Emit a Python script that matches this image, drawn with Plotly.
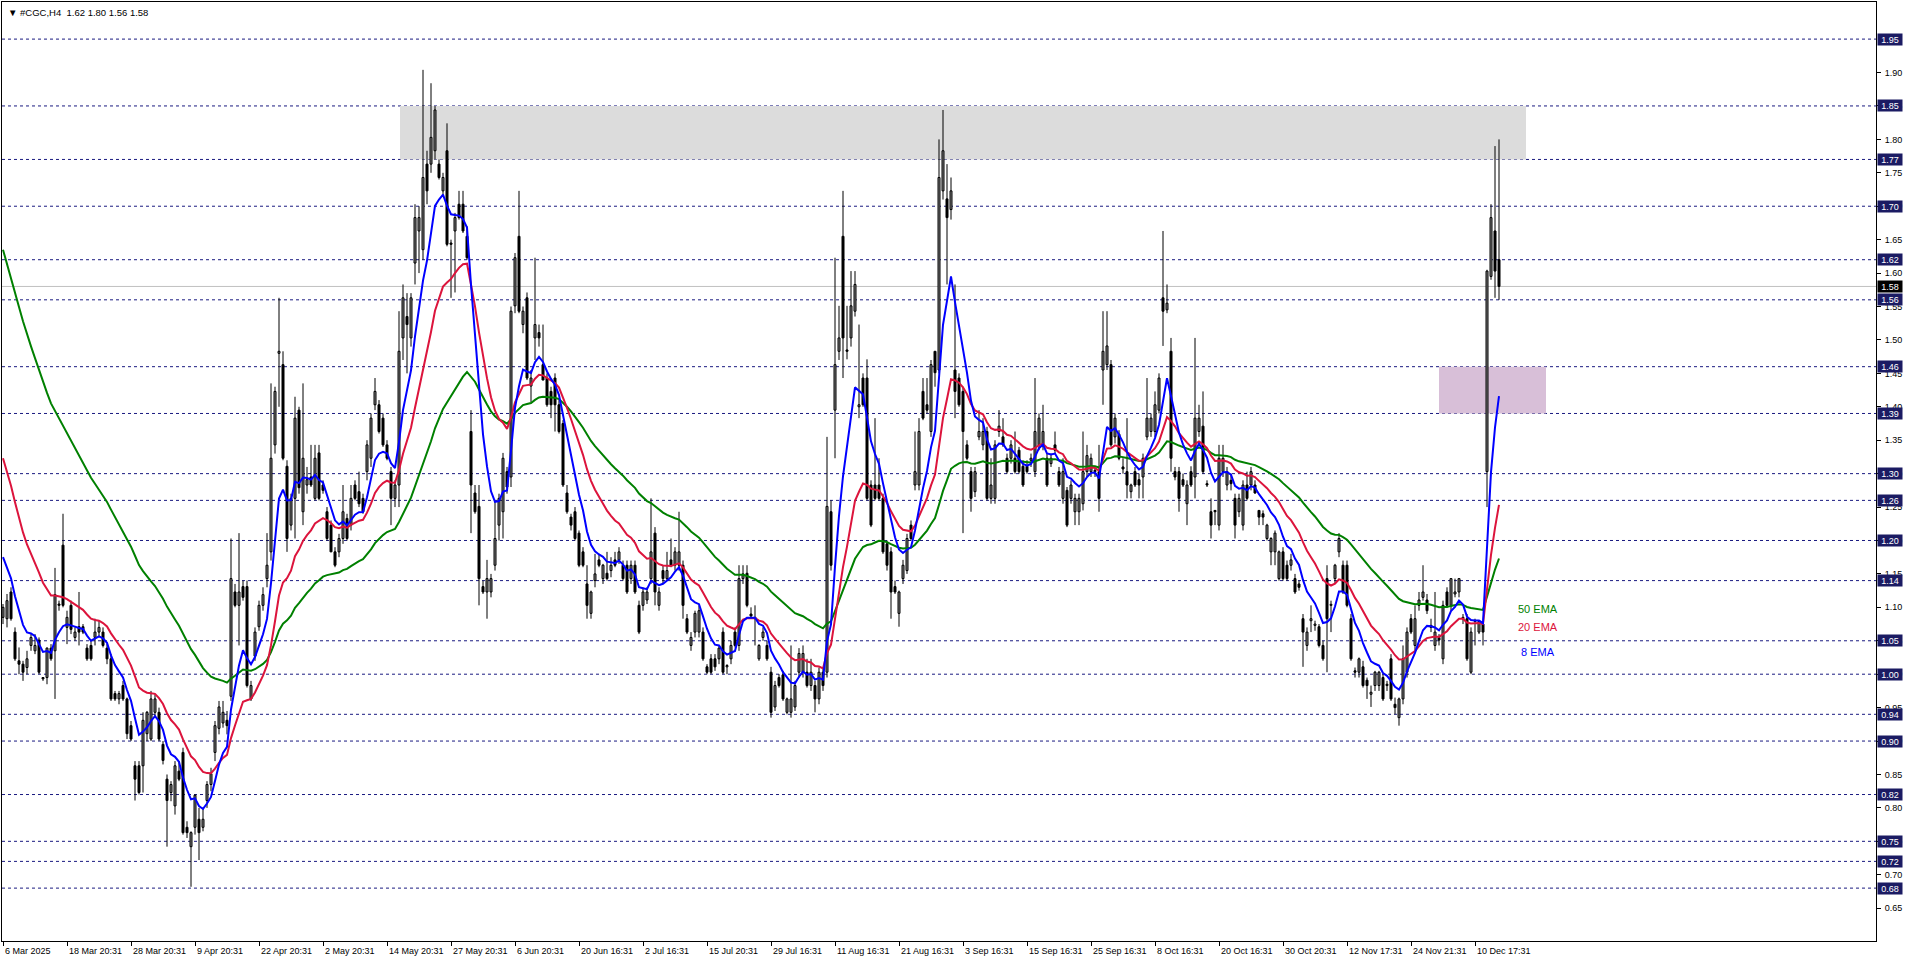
import plotly.graph_objects as go

# ---------------- data (H4 candles) ----------------
opens = [
    1.085,1.083,1.123,1.063,1.02,1.015,1.01,1.043,1.035,1.051,
    0.995,0.995,1.039,1.035,1.105,1.193,1.07,1.103,1.055,1.071,
    1.071,1.039,1.043,1.055,1.063,1.063,1.039,1.023,0.971,0.963,
    0.983,0.963,0.923,0.863,0.863,0.863,0.911,0.903,0.943,0.943,
    0.895,0.843,0.823,0.803,0.855,0.883,0.771,0.742,0.771,0.783,
    0.771,0.811,0.835,0.883,0.919,0.927,0.931,0.967,1.123,1.103,
    1.131,1.131,0.963,1.027,1.071,1.103,1.143,1.183,1.343,1.48,
    1.463,1.311,1.223,1.263,1.395,1.243,1.283,1.295,1.263,1.331,
    1.283,1.243,1.223,1.183,1.183,1.203,1.233,1.223,1.283,1.273,
    1.263,1.303,1.323,1.403,1.403,1.383,1.343,1.303,1.263,1.283,
    1.503,1.535,1.503,1.615,1.663,1.635,1.763,1.763,1.783,1.763,
    1.723,1.783,1.645,1.663,1.703,1.703,1.655,1.363,1.271,1.251,
    1.131,1.123,1.123,1.163,1.223,1.243,1.303,1.295,1.551,1.655,
    1.523,1.563,1.431,1.503,1.511,1.463,1.443,1.423,1.443,1.403,
    1.375,1.271,1.235,1.243,1.211,1.183,1.135,1.091,1.14,1.171,
    1.143,1.151,1.155,1.171,1.171,1.163,1.163,1.143,1.163,1.103,
    1.103,1.111,1.143,1.211,1.103,1.155,1.143,1.171,1.163,1.163,
    1.163,1.083,1.043,1.063,1.063,1.063,1.011,1.023,1.023,1.023,
    1.063,1.011,1.023,1.063,1.043,1.143,1.151,1.09,1.085,1.023,
    1.055,1.043,1.003,0.951,0.995,0.999,0.943,0.943,0.951,1.003,
    1.003,1.003,0.983,0.983,0.963,1.003,1.003,1.243,1.395,1.483,
    1.655,1.485,1.503,1.543,1.40,1.443,1.443,1.283,1.283,1.283,
    1.263,1.195,1.183,1.131,1.091,1.143,1.155,1.223,1.283,1.283,
    1.423,1.403,1.363,1.483,1.455,1.723,1.711,1.695,1.455,1.443,
    1.423,1.343,1.303,1.273,1.355,1.343,1.363,1.263,1.263,1.363,
    1.355,1.323,1.323,1.323,1.335,1.311,1.311,1.32,1.303,1.343,
    1.343,1.323,1.315,1.343,1.303,1.263,1.275,1.263,1.243,1.243,
    1.255,1.303,1.303,1.305,1.303,1.455,1.463,1.463,1.355,1.359,
    1.31,1.303,1.273,1.303,1.291,1.295,1.355,1.363,1.363,1.395,
    1.563,1.545,1.483,1.303,1.303,1.291,1.255,1.303,1.295,1.363,
    1.371,1.285,1.243,1.245,1.223,1.303,1.283,1.29,1.263,1.243,
    1.223,1.283,1.283,1.283,1.245,1.24,1.203,1.183,1.183,1.143,
    1.183,1.163,1.163,1.143,1.135,1.083,1.043,1.08,1.073,1.071,
    1.043,1.143,1.103,1.143,1.183,1.163,1.163,1.083,1.005,1.003,
    1.011,0.991,0.97,0.983,0.983,0.995,0.985,1.023,0.955,0.935,
    0.963,1.003,1.083,1.043,1.103,1.115,1.111,1.073,1.043,1.055,
    1.023,1.123,1.103,1.12,1.123,1.085,1.083,1.003,1.08,1.063,
    1.075,1.303,1.595,1.663,1.62,
]
highs = [
    1.105,1.12,1.13,1.07,1.04,1.02,1.035,1.06,1.06,1.055,
    0.995,1.04,1.045,1.159,1.11,1.24,1.095,1.11,1.07,1.123,
    1.075,1.045,1.05,1.083,1.08,1.07,1.045,1.03,0.975,0.975,
    0.99,0.965,0.93,0.87,0.87,0.943,0.945,0.975,0.97,0.95,
    0.90,0.85,0.84,0.87,0.87,0.89,0.78,0.765,0.82,0.80,
    0.80,0.84,0.86,0.93,0.96,0.96,0.945,1.203,1.135,1.211,
    1.14,1.14,0.99,1.07,1.11,1.13,1.211,1.435,1.43,1.563,
    1.483,1.32,1.27,1.415,1.40,1.435,1.31,1.343,1.343,1.343,
    1.29,1.25,1.23,1.19,1.21,1.283,1.24,1.283,1.29,1.303,
    1.27,1.35,1.39,1.443,1.41,1.39,1.35,1.31,1.29,1.543,
    1.583,1.57,1.57,1.703,1.70,1.904,1.783,1.884,1.85,1.77,
    1.75,1.824,1.65,1.69,1.723,1.723,1.67,1.395,1.283,1.283,
    1.14,1.171,1.15,1.259,1.27,1.331,1.31,1.55,1.63,1.723,
    1.55,1.571,1.455,1.623,1.523,1.523,1.45,1.43,1.45,1.41,
    1.38,1.283,1.24,1.25,1.215,1.19,1.163,1.125,1.18,1.18,
    1.165,1.183,1.175,1.183,1.19,1.17,1.17,1.17,1.17,1.11,
    1.13,1.13,1.263,1.22,1.13,1.163,1.183,1.203,1.19,1.243,
    1.17,1.09,1.063,1.095,1.103,1.07,1.015,1.03,1.03,1.043,
    1.07,1.015,1.05,1.07,1.163,1.163,1.163,1.10,1.103,1.045,
    1.07,1.05,1.011,0.99,1.00,1.005,0.965,1.043,0.99,1.039,
    1.043,1.023,1.023,0.99,1.01,1.01,1.355,1.26,1.623,1.551,
    1.723,1.551,1.603,1.603,1.523,1.45,1.471,1.29,1.383,1.323,
    1.27,1.20,1.19,1.14,1.125,1.171,1.21,1.23,1.363,1.383,
    1.443,1.443,1.47,1.483,1.80,1.844,1.763,1.743,1.583,1.45,
    1.43,1.35,1.31,1.31,1.395,1.383,1.37,1.323,1.35,1.395,
    1.383,1.33,1.35,1.363,1.34,1.32,1.32,1.33,1.443,1.39,
    1.403,1.33,1.33,1.363,1.31,1.323,1.28,1.29,1.27,1.27,
    1.363,1.343,1.33,1.31,1.343,1.543,1.543,1.47,1.39,1.365,
    1.323,1.383,1.285,1.31,1.30,1.33,1.443,1.39,1.423,1.45,
    1.663,1.583,1.503,1.31,1.31,1.30,1.29,1.311,1.503,1.403,
    1.423,1.29,1.263,1.245,1.343,1.343,1.31,1.30,1.27,1.27,
    1.29,1.303,1.31,1.29,1.245,1.245,1.225,1.205,1.215,1.185,
    1.19,1.17,1.18,1.15,1.14,1.09,1.07,1.103,1.08,1.075,
    1.05,1.163,1.11,1.165,1.211,1.17,1.17,1.09,1.01,1.025,
    1.02,0.995,0.983,1.005,1.005,1.00,0.99,1.03,0.965,0.965,
    1.043,1.07,1.09,1.103,1.123,1.163,1.12,1.083,1.123,1.06,
    1.11,1.13,1.143,1.143,1.143,1.09,1.09,1.07,1.083,1.08,
    1.08,1.605,1.703,1.79,1.80,
]
lows = [
    1.075,1.07,1.08,1.02,1.00,0.99,1.00,1.035,1.03,1.00,
    0.99,0.985,1.02,0.963,1.095,1.10,1.045,1.06,1.05,1.043,
    1.06,1.02,1.02,1.043,1.055,1.04,1.015,0.96,0.96,0.955,
    0.96,0.903,0.90,0.811,0.82,0.823,0.90,0.90,0.935,0.90,
    0.865,0.742,0.81,0.79,0.84,0.76,0.755,0.682,0.76,0.722,
    0.765,0.80,0.825,0.87,0.91,0.92,0.91,0.96,1.10,1.043,
    1.11,0.98,0.96,1.02,1.065,1.095,1.13,1.17,1.33,1.40,
    1.32,1.183,1.215,1.203,1.27,1.223,1.27,1.28,1.26,1.26,
    1.27,1.20,1.183,1.16,1.175,1.195,1.20,1.215,1.26,1.25,
    1.24,1.29,1.31,1.395,1.36,1.34,1.32,1.223,1.25,1.25,
    1.47,1.45,1.49,1.583,1.60,1.62,1.703,1.75,1.77,1.74,
    1.715,1.64,1.563,1.571,1.68,1.66,1.62,1.211,1.24,1.103,
    1.12,1.083,1.115,1.155,1.20,1.203,1.27,1.28,1.54,1.54,
    1.51,1.44,1.407,1.47,1.49,1.44,1.40,1.383,1.363,1.36,
    1.28,1.24,1.215,1.20,1.16,1.16,1.083,1.083,1.13,1.16,
    1.135,1.14,1.145,1.16,1.165,1.14,1.12,1.135,1.12,1.06,
    1.095,1.105,1.135,1.103,1.095,1.135,1.14,1.16,1.155,1.155,
    1.083,1.06,1.035,1.055,1.055,1.02,1.00,1.00,1.005,1.015,
    1.00,1.00,1.015,1.04,1.035,1.135,1.10,1.085,1.043,1.02,
    1.05,1.02,0.935,0.945,0.98,0.96,0.94,0.935,0.945,0.995,
    0.995,0.98,0.975,0.943,0.955,0.975,0.995,1.155,1.323,1.47,
    1.443,1.471,1.49,1.535,1.383,1.40,1.26,1.22,1.26,1.26,
    1.18,1.155,1.083,1.12,1.071,1.135,1.15,1.20,1.275,1.275,
    1.38,1.39,1.355,1.43,1.45,1.71,1.583,1.68,1.383,1.40,
    1.211,1.32,1.243,1.265,1.35,1.335,1.26,1.255,1.255,1.355,
    1.34,1.30,1.315,1.30,1.30,1.28,1.30,1.31,1.295,1.335,
    1.335,1.28,1.31,1.33,1.28,1.255,1.22,1.255,1.223,1.223,
    1.245,1.295,1.295,1.295,1.243,1.403,1.455,1.34,1.345,1.32,
    1.30,1.263,1.263,1.28,1.263,1.263,1.35,1.355,1.355,1.39,
    1.491,1.54,1.303,1.29,1.243,1.28,1.223,1.28,1.263,1.355,
    1.30,1.28,1.203,1.223,1.215,1.295,1.275,1.275,1.203,1.235,
    1.215,1.26,1.275,1.27,1.223,1.223,1.20,1.163,1.163,1.14,
    1.14,1.14,1.155,1.12,1.125,1.011,1.035,1.063,1.065,1.04,
    1.02,1.003,1.063,1.135,1.175,1.12,1.10,1.02,0.995,0.995,
    0.98,0.963,0.951,0.975,0.975,0.96,0.975,0.96,0.94,0.923,
    0.955,0.995,1.06,1.035,1.095,1.11,1.09,1.063,1.035,1.043,
    1.015,1.10,1.095,1.115,1.115,1.075,1.02,1.00,1.043,1.06,
    1.043,1.25,1.59,1.563,1.56,
]
closes = [
    1.100,1.11,1.083,1.023,1.015,1.003,1.023,1.055,1.043,1.003,
    0.993,1.039,1.023,1.119,1.103,1.103,1.085,1.067,1.063,1.063,
    1.063,1.023,1.023,1.063,1.07,1.043,1.023,0.963,0.963,0.971,
    0.963,0.911,0.903,0.843,0.823,0.931,0.943,0.963,0.963,0.903,
    0.871,0.811,0.835,0.863,0.843,0.763,0.763,0.763,0.819,0.763,
    0.783,0.835,0.851,0.923,0.951,0.943,0.923,1.143,1.103,1.123,
    1.115,0.983,0.983,1.063,1.103,1.119,1.163,1.323,1.423,1.483,
    1.323,1.203,1.263,1.383,1.279,1.323,1.291,1.283,1.323,1.263,
    1.275,1.203,1.183,1.163,1.203,1.243,1.203,1.263,1.263,1.255,
    1.243,1.343,1.383,1.423,1.363,1.343,1.323,1.263,1.283,1.483,
    1.563,1.523,1.563,1.683,1.683,1.743,1.723,1.803,1.844,1.743,
    1.743,1.643,1.643,1.683,1.683,1.663,1.623,1.283,1.243,1.143,
    1.123,1.143,1.143,1.203,1.263,1.323,1.28,1.543,1.623,1.543,
    1.543,1.443,1.443,1.523,1.503,1.44,1.403,1.403,1.403,1.363,
    1.283,1.243,1.223,1.203,1.163,1.163,1.103,1.123,1.15,1.163,
    1.163,1.143,1.163,1.163,1.183,1.143,1.123,1.163,1.123,1.063,
    1.123,1.123,1.183,1.123,1.123,1.143,1.155,1.163,1.183,1.183,
    1.103,1.063,1.055,1.091,1.095,1.023,1.003,1.003,1.011,1.039,
    1.003,1.013,1.043,1.043,1.143,1.15,1.103,1.087,1.083,1.043,
    1.063,1.023,0.943,0.983,0.983,0.963,0.963,0.963,0.983,1.031,
    1.031,0.983,1.003,0.963,1.003,0.983,1.251,1.163,1.463,1.503,
    1.503,1.483,1.551,1.583,1.403,1.403,1.263,1.223,1.263,1.263,
    1.183,1.163,1.123,1.123,1.123,1.163,1.203,1.203,1.303,1.363,
    1.383,1.395,1.463,1.451,1.743,1.783,1.683,1.723,1.423,1.403,
    1.363,1.323,1.263,1.303,1.363,1.363,1.263,1.283,1.343,1.371,
    1.343,1.303,1.343,1.303,1.303,1.283,1.303,1.323,1.363,1.383,
    1.363,1.283,1.323,1.335,1.283,1.303,1.223,1.283,1.263,1.263,
    1.303,1.327,1.323,1.303,1.263,1.483,1.491,1.343,1.383,1.323,
    1.307,1.283,1.283,1.283,1.283,1.323,1.383,1.383,1.403,1.443,
    1.543,1.555,1.323,1.295,1.263,1.283,1.283,1.283,1.383,1.383,
    1.303,1.283,1.223,1.243,1.323,1.323,1.303,1.285,1.223,1.263,
    1.283,1.263,1.303,1.271,1.235,1.235,1.223,1.203,1.211,1.183,
    1.143,1.143,1.171,1.123,1.13,1.063,1.063,1.083,1.075,1.043,
    1.023,1.083,1.103,1.163,1.203,1.123,1.103,1.023,1.003,1.023,
    0.983,0.983,0.973,1.003,1.003,0.963,0.983,0.963,0.95,0.963,
    1.023,1.063,1.063,1.083,1.111,1.123,1.095,1.07,1.063,1.051,
    1.103,1.103,1.143,1.123,1.143,1.083,1.023,1.063,1.079,1.079,
    1.063,1.603,1.683,1.603,1.58,
]

tick_labels = ["6 Mar 2025", "18 Mar 20:31", "28 Mar 20:31", "9 Apr 20:31",
               "22 Apr 20:31", "2 May 20:31", "14 May 20:31", "27 May 20:31",
               "6 Jun 20:31", "20 Jun 16:31", "2 Jul 16:31", "15 Jul 20:31",
               "29 Jul 16:31", "11 Aug 16:31", "21 Aug 16:31", "3 Sep 16:31",
               "15 Sep 16:31", "25 Sep 16:31", "8 Oct 16:31", "20 Oct 16:31",
               "30 Oct 20:31", "12 Nov 17:31", "24 Nov 21:31", "10 Dec 17:31"]
bars_per_label = 16

price_ticks = [0.65, 0.70, 0.75, 0.80, 0.85, 0.90, 0.95, 1.00, 1.05, 1.10, 1.15,
               1.20, 1.25, 1.30, 1.35, 1.40, 1.45, 1.50, 1.55, 1.60, 1.65, 1.70,
               1.75, 1.80, 1.85, 1.90]
levels = [1.95, 1.85, 1.77, 1.70, 1.62, 1.56, 1.46, 1.39, 1.30, 1.26, 1.20,
          1.14, 1.05, 1.00, 0.94, 0.90, 0.82, 0.75, 0.72, 0.68]
last_price = 1.58

ema_periods = [50, 20, 8]
ema_start = [1.635, 1.323, 1.175]     # indicator values at the first visible bar
ema_names = ["50 EMA", "20 EMA", "8 EMA"]

gray_zone = dict(bar0=99.25, bar1=380.75, lo=1.77, hi=1.85)
purple_zone = dict(bar0=359.0, bar1=385.75, lo=1.39, hi=1.46)

title_text = "\u25bc #CGC,H4\u00a0\u00a01.62 1.80 1.56 1.58"

# ---------------- styling ----------------
FONT = "Liberation Sans, Arial, DejaVu Sans, sans-serif"
LINE_NAVY = "#1a1a80"
BOX_NAVY = "#1b1b63"
ema_colors = {"50 EMA": "#008000", "20 EMA": "#dc143c", "8 EMA": "#0000ff"}

n = len(closes)
idx = list(range(n))


def ema(values, period, start):
    a = 2.0 / (period + 1)
    out = [start]
    for v in values[1:]:
        out.append(out[-1] + a * (v - out[-1]))
    return out


fig = go.Figure()

# wicks
wx, wy = [], []
for i in idx:
    wx += [i, i, None]
    wy += [lows[i], highs[i], None]
fig.add_trace(go.Scatter(x=wx, y=wy, mode="lines", line=dict(color="black", width=1),
                         hoverinfo="skip", showlegend=False))

# bodies
MIN_H = 0.0015
for bull in (True, False):
    xs, bases, hs = [], [], []
    for i in idx:
        o, c = opens[i], closes[i]
        if (c >= o) == bull:
            xs.append(i)
            bases.append(min(o, c))
            hs.append(max(abs(c - o), MIN_H))
    fig.add_trace(go.Bar(x=xs, y=hs, base=bases, width=0.5,
                         marker=dict(color="white" if bull else "black",
                                     line=dict(color="black", width=1)),
                         showlegend=False, hoverinfo="skip"))

# EMAs
for p, s, name in zip(ema_periods, ema_start, ema_names):
    fig.add_trace(go.Scatter(x=idx, y=ema(closes, p, s), mode="lines",
                             line=dict(color=ema_colors[name], width=2),
                             showlegend=False, hoverinfo="skip"))

shapes = []
for z, col in ((gray_zone, "#dcdcdc"), (purple_zone, "#d8bfd8")):
    shapes.append(dict(type="rect", xref="x", yref="y", x0=z["bar0"], x1=z["bar1"],
                       y0=z["lo"], y1=z["hi"], fillcolor=col, line=dict(width=0),
                       layer="below"))
for lv in levels:
    shapes.append(dict(type="line", xref="paper", yref="y", x0=0, x1=1, y0=lv, y1=lv,
                       line=dict(color=LINE_NAVY, width=1, dash="3px,3px"), layer="below"))
shapes.append(dict(type="line", xref="paper", yref="y", x0=0, x1=1, y0=last_price,
                   y1=last_price, line=dict(color="#c0c0c0", width=1), layer="below"))

annotations = []
# price level boxes
for lv in levels:
    annotations.append(dict(x=1, xref="paper", y=lv, yref="y", xanchor="left",
                            yanchor="middle", xshift=1, text=f"{lv:.2f}", showarrow=False,
                            bgcolor=BOX_NAVY, font=dict(color="white", size=9, family=FONT),
                            width=22, height=9, borderpad=1))
annotations.append(dict(x=1, xref="paper", y=last_price, yref="y", xanchor="left",
                        yanchor="middle", xshift=1, text=f"{last_price:.2f}",
                        showarrow=False, bgcolor="black",
                        font=dict(color="white", size=9, family=FONT),
                        width=22, height=9, borderpad=1))
# time labels
tick_pos = [k * bars_per_label for k in range(len(tick_labels))]
for pos, lab in zip(tick_pos, tick_labels):
    annotations.append(dict(x=pos, xref="x", y=0, yref="paper", xanchor="left",
                            yanchor="top", xshift=0, yshift=-3, text=lab, showarrow=False,
                            font=dict(color="black", size=9, family=FONT)))
# title
annotations.append(dict(x=0, xref="paper", y=1, yref="paper", xanchor="left",
                        yanchor="top", xshift=4, yshift=-3, text=title_text,
                        showarrow=False, font=dict(color="black", size=9.5, family=FONT)))
# EMA labels
label_pos = {"50 EMA": (378.2, 1.0975), "20 EMA": (378.2, 1.0702), "8 EMA": (379.0, 1.0332)}
for name in ema_names:
    lx, ly = label_pos[name]
    annotations.append(dict(x=lx, xref="x", y=ly, yref="y", xanchor="left",
                            yanchor="middle", text=name, showarrow=False,
                            font=dict(color=ema_colors[name], size=11, family=FONT)))

fig.update_layout(
    width=1916, height=963,
    margin=dict(l=2, r=40, t=2, b=22),
    paper_bgcolor="white", plot_bgcolor="white",
    barmode="overlay", showlegend=False,
    shapes=shapes, annotations=annotations,
    xaxis=dict(range=[-0.25, 468.25], showgrid=False, zeroline=False,
               showline=True, linecolor="black", linewidth=1, mirror=True,
               tickvals=tick_pos, ticks="outside", ticklen=4, tickcolor="black",
               showticklabels=False, fixedrange=True),
    yaxis=dict(side="right", range=[0.6009, 2.0055], showgrid=False, zeroline=False,
               showline=True, linecolor="black", linewidth=1, mirror=True,
               tickvals=price_ticks, ticktext=[f"{t:.2f}" for t in price_ticks],
               ticks="outside", ticklen=4, tickcolor="black",
               tickfont=dict(color="black", size=9, family=FONT),
               ticklabelstandoff=2, fixedrange=True),
    font=dict(family=FONT),
)

fig.write_html("out.html", config={"displayModeBar": False},
               post_script="document.body.style.margin='0px';document.body.style.overflow='hidden';")
